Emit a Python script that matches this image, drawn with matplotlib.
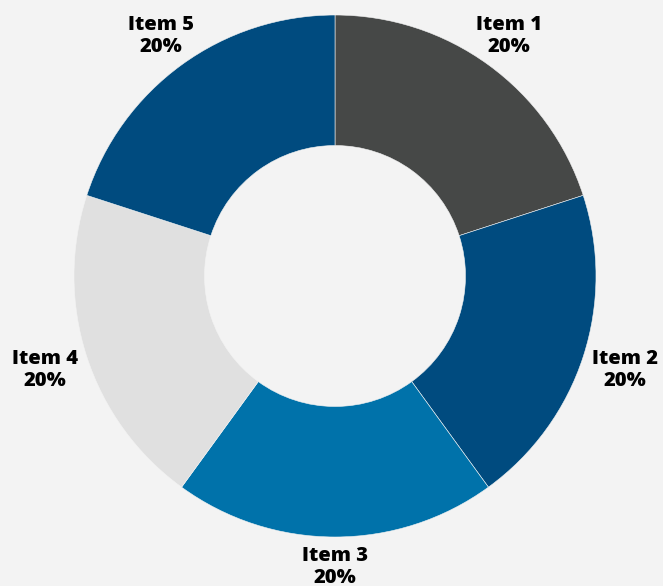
import numpy as np
import matplotlib.pyplot as plt

labels = ['Item 1', 'Item 2', 'Item 3', 'Item 4', 'Item 5']
values = [20, 20, 20, 20, 20]
colors = ['#464847', '#004b7f', '#0072aa', '#e0e0e0', '#004b7f']

bg = '#f3f3f3'
fig = plt.figure(figsize=(6.63, 5.86), dpi=100, facecolor=bg)
# pie centre at (335, 276) px, radius 261 px
ax = fig.add_axes([(335 - 261) / 663, (586 - 276 - 261) / 586, 522 / 663, 522 / 586])
ax.set_facecolor(bg)

total = sum(values)
texts = [f'{l}\n{v / total * 100:.0f}%' for l, v in zip(labels, values)]

wedges, _ = ax.pie(values, colors=colors, startangle=90,
                   counterclock=False, radius=1,
                   wedgeprops=dict(width=0.5, edgecolor=bg, linewidth=0.4))

ax.set_xlim(-1, 1)
ax.set_ylim(-1, 1)
ax.set_aspect('equal')
ax.axis('off')

# labels sit just outside the ring, box edge touching an anchor point
fig.canvas.draw()
renderer = fig.canvas.get_renderer()
px_per_unit = 261
anchor_r = 1.035
for w, s in zip(wedges, texts):
    theta = np.deg2rad((w.theta1 + w.theta2) / 2)
    c, sn = np.cos(theta), np.sin(theta)
    t = ax.text(0, 0, s, ha='center', va='center', fontsize=14.5,
                fontweight='heavy', family='Open Sans', color='black',
                linespacing=1.15)
    bb = t.get_window_extent(renderer)
    hw = bb.width / 2 / px_per_unit
    hh = bb.height / 2 / px_per_unit
    d = min(hw / max(abs(c), 1e-6), hh / max(abs(sn), 1e-6))
    r = anchor_r + d
    t.set_position((r * c, r * sn))

fig.savefig('out.png', dpi=100, facecolor=bg)
